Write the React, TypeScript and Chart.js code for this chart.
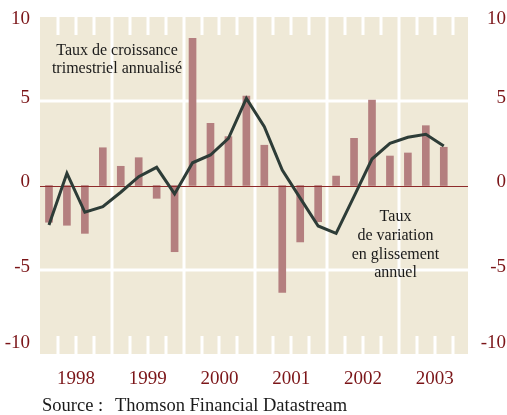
import React, { useEffect, useRef } from 'react';
import { Chart, registerables } from 'chart.js';

Chart.register(...registerables);

// ---- data ----
const years = ['1998', '1999', '2000', '2001', '2002', '2003'];
const quarterlyGrowth = [
  -2.18, -2.36, -2.84, 2.24,
  1.14, 1.65, -0.76, -3.93,
  8.74, 3.69, 2.9, 5.31,
  2.39, -6.34, -3.35, -2.15,
  0.56, 2.8, 5.07, 1.75,
  1.93, 3.55, 2.27,
];
const yearOnYear = [
  -2.34, 0.72, -1.59, -1.26,
  -0.4, 0.52, 1.08, -0.5,
  1.35, 1.81, 2.8, 5.17,
  3.49, 0.92, -0.75, -2.4,
  -2.84, -0.65, 1.57, 2.5,
  2.86, 3.04, 2.34,
];
const yTickValues = [10, 5, 0, -5, -10];
const annotationGrowth = ['Taux de croissance', 'trimestriel annualisé'];
const annotationYoY = ['Taux', 'de variation', 'en glissement', 'annuel'];
const sourceLabel = 'Source :';
const sourceName = 'Thomson Financial Datastream';

// ---- styles ----
const FONT = '"Liberation Serif", "Times New Roman", serif';
const BEIGE = '#efe9d7';
const BAR = '#b47f7f';
const LINE = '#2d3c37';
const AXIS_RED = '#7b1518';
const ZERO_RED = '#8e2b2b';
const TEXT = '#1a1a1a';

const QUARTERS = years.length * 4;

const decorPlugin = {
  id: 'decor',
  beforeDatasetsDraw(chart: any) {
    const { ctx, chartArea: a, scales } = chart;
    const x = scales.x;
    const y = scales.y;
    ctx.save();
    ctx.fillStyle = BEIGE;
    ctx.fillRect(a.left, a.top, a.right - a.left, a.bottom - a.top);
    ctx.strokeStyle = '#ffffff';
    ctx.lineWidth = 3;
    // horizontal white lines
    for (const v of yTickValues) {
      if (v === 0 || Math.abs(v) === 10) continue;
      const py = Math.round(y.getPixelForValue(v));
      ctx.beginPath();
      ctx.moveTo(a.left, py);
      ctx.lineTo(a.right, py);
      ctx.stroke();
    }
    // year separators
    for (let q = 4; q < QUARTERS; q += 4) {
      const px = Math.round(x.getPixelForValue(q));
      ctx.beginPath();
      ctx.moveTo(px, a.top);
      ctx.lineTo(px, a.bottom);
      ctx.stroke();
    }
    // quarter ticks
    ctx.lineWidth = 3;
    for (let q = 1; q < QUARTERS; q++) {
      if (q % 4 === 0) continue;
      const px = Math.round(x.getPixelForValue(q));
      ctx.beginPath();
      ctx.moveTo(px, a.top);
      ctx.lineTo(px, a.top + 18);
      ctx.moveTo(px, a.bottom - 18);
      ctx.lineTo(px, a.bottom);
      ctx.stroke();
    }
    ctx.restore();
  },
  afterDatasetDraw(chart: any, args: any) {
    if (args.index !== 0) return;
    const { ctx, chartArea: a, scales } = chart;
    const py = Math.round(scales.y.getPixelForValue(0)) + 0.5;
    ctx.save();
    ctx.strokeStyle = ZERO_RED;
    ctx.lineWidth = 1.2;
    ctx.beginPath();
    ctx.moveTo(a.left, py);
    ctx.lineTo(a.right, py);
    ctx.stroke();
    ctx.restore();
  },
  afterDraw(chart: any) {
    const { ctx, chartArea: a, scales } = chart;
    const y = scales.y;
    ctx.save();
    // y tick labels, both sides
    ctx.font = `19px ${FONT}`;
    ctx.fillStyle = AXIS_RED;
    ctx.textAlign = 'right';
    ctx.textBaseline = 'middle';
    for (const v of yTickValues) {
      let py = y.getPixelForValue(v) - 3;
      py = Math.max(a.top + 2, Math.min(a.bottom - 11, py));
      ctx.fillText(String(v), 30, py);
      ctx.fillText(String(v), 506, py);
    }
    // annotations
    ctx.font = `16px ${FONT}`;
    ctx.fillStyle = TEXT;
    ctx.textAlign = 'center';
    ctx.textBaseline = 'alphabetic';
    annotationGrowth.forEach((t, i) => ctx.fillText(t, 117, 55 + i * 17.5));
    annotationYoY.forEach((t, i) => ctx.fillText(t, 395.5, 221 + i * 18.8));
    // source
    ctx.font = `18.5px ${FONT}`;
    ctx.textAlign = 'left';
    ctx.fillText(sourceLabel, 42, 411);
    ctx.fillText(sourceName, 115, 411);
    ctx.restore();
  },
};

export default function App() {
  const ref = useRef<HTMLCanvasElement | null>(null);

  useEffect(() => {
    if (!ref.current) return;
    const chart = new Chart(ref.current, {
      type: 'bar',
      data: {
        datasets: [
          {
            type: 'bar',
            label: 'Taux de croissance trimestriel annualisé',
            data: quarterlyGrowth.map((v, i) => ({ x: i + 0.5, y: v })),
            backgroundColor: BAR,
            borderWidth: 0,
            barThickness: 7,
            order: 1,
          } as any,
          {
            type: 'line',
            label: 'Taux de variation en glissement annuel',
            data: yearOnYear.map((v, i) => ({ x: i + 0.5, y: v })),
            borderColor: LINE,
            borderWidth: 3,
            pointRadius: 0,
            fill: false,
            tension: 0,
            order: 0,
          } as any,
        ],
      },
      options: {
        animation: false,
        responsive: false,
        devicePixelRatio: 1,
        layout: { padding: { left: 40, right: 39, top: 17, bottom: 0 } },
        plugins: { legend: { display: false }, tooltip: { enabled: false } },
        scales: {
          x: {
            type: 'linear',
            min: 0,
            max: 23.85,
            offset: false,
            grid: { display: false },
            border: { display: false },
            afterBuildTicks: (scale: any) => {
              scale.ticks = years.map((_, i) => ({ value: i * 4 + 2 }));
            },
            afterFit: (scale: any) => {
              scale.height = 61;
            },
            ticks: {
              autoSkip: false,
              maxRotation: 0,
              padding: 6,
              color: AXIS_RED,
              font: { family: FONT, size: 19 },
              callback: (v: any) => years[Math.round((Number(v) - 2) / 4)] ?? '',
            },
          },
          y: {
            display: false,
            min: -10,
            max: 10,
          },
        },
      } as any,
      plugins: [decorPlugin],
    });
    return () => chart.destroy();
  }, []);

  return (
    <div style={{ position: 'absolute', left: 0, top: 0, width: 507, height: 415, background: '#fff' }}>
      <canvas ref={ref} width={507} height={415} style={{ display: 'block' }} />
    </div>
  );
}
